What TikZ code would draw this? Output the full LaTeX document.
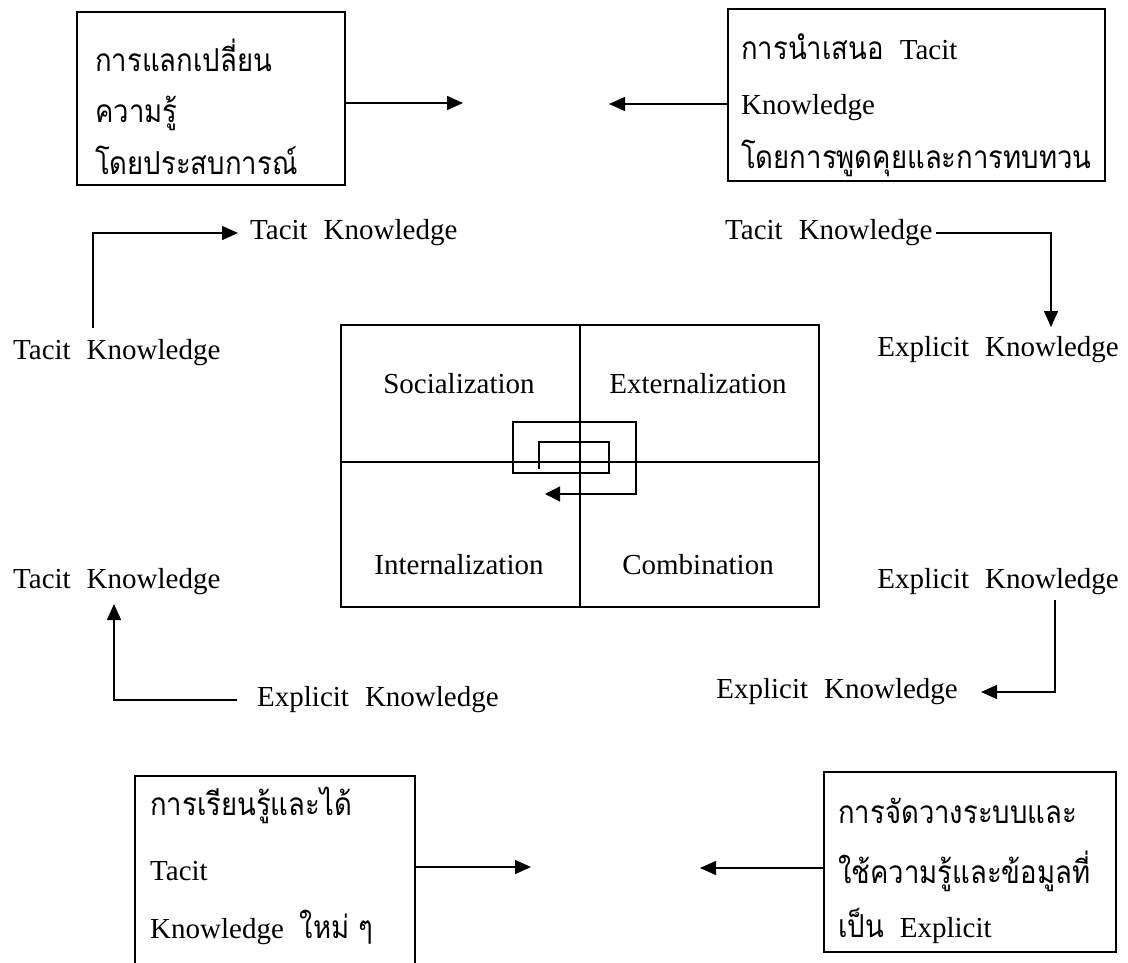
\documentclass[tikz,border=0pt]{standalone}
\usepackage{graphicx}
\usepackage{fontspec}
\setmainfont{Liberation Serif}
\newfontfamily\thaifont[Script=Thai]{Loma}
% Thai runs are set a little taller than Loma's natural proportions
\newcommand\tht[1]{\scalebox{1}[1.15]{\fontsize{27.5}{32}\thaifont #1}}
\newcommand\gap{\hspace{16pt}}
\usetikzlibrary{arrows.meta}
\begin{document}
\begin{tikzpicture}[x=1pt,y=-1pt,
  lbl/.style={inner sep=0pt, font=\fontsize{29}{34}\selectfont},
  frame/.style={draw, line width=1.8pt, inner sep=0pt, anchor=north west},
  link/.style={line width=1.5pt},
  arr/.style={link, -{Triangle[length=16pt,width=14pt]}},
]
\useasboundingbox (0,0) rectangle (1128,963);

% ---- four process boxes ----
\node[frame, minimum width=268pt, minimum height=173pt] (b1) at (76,11) {};
\node[lbl, anchor=base west] (b1a) at (95,72)  {\tht{การแลกเปลี่ยน}};
\node[lbl, anchor=base west] (b1b) at (95,123) {\tht{ความรู้}};
\node[lbl, anchor=base west] (b1c) at (95,175) {\tht{โดยประสบการณ์}};

\node[frame, minimum width=377pt, minimum height=172pt] (b2) at (727,8) {};
\node[lbl, anchor=base west] (b2a) at (741,60)  {\tht{การนำเสนอ}\gap Tacit};
\node[lbl, anchor=base west] (b2b) at (741,115) {Knowledge};
\node[lbl, anchor=base west] (b2c) at (741,168) {\tht{โดยการพูดคุยและการทบทวน}};

\node[frame, minimum width=280pt, minimum height=215pt] (b3) at (134,775) {};
\node[lbl, anchor=base west] (b3a) at (150,815) {\tht{การเรียนรู้และได้}};
\node[lbl, anchor=base west] (b3b) at (150,880) {Tacit};
\node[lbl, anchor=base west] (b3c) at (150,938) {Knowledge\gap\tht{ใหม่ ๆ}};

\node[frame, minimum width=292pt, minimum height=180pt] (b4) at (823,771) {};
\node[lbl, anchor=base west] (b4a) at (838,823) {\tht{การจัดวางระบบและ}};
\node[lbl, anchor=base west] (b4b) at (838,883) {\tht{ใช้ความรู้และข้อมูลที่}};
\node[lbl, anchor=base west] (b4c) at (838,937) {\tht{เป็น}\gap Explicit};

% arrows leaving the boxes
\coordinate (t1) at (463,103);
\coordinate (t2) at (609,104);
\coordinate (t3) at (531,867);
\coordinate (t4) at (700,868);
\draw[arr] (b1.east |- t1) -- (t1);
\draw[arr] (b2.west |- t2) -- (t2);
\draw[arr] (b3.east |- t3) -- (t3);
\draw[arr] (b4.west |- t4) -- (t4);

% ---- SECI grid ----
\node[frame, minimum width=478pt, minimum height=282pt] (g) at (340,324) {};
\draw[line width=1.8pt] (g.north) -- (g.south);
\draw[line width=1.8pt] (g.west |- 0,462) -- (g.east |- 0,462);
\node[lbl] (soc) at (459,384) {Socialization};
\node[lbl] (ext) at (698,384) {Externalization};
\node[lbl] (int) at (459,565) {Internalization};
\node[lbl] (com) at (698,565) {Combination};

% spiral through the centre of the grid
\draw[arr, line width=1.3pt, -{Triangle[length=15pt,width=15pt]}]
  (539,469) -- (539,442) -- (609,442) -- (609,473) -- (513,473)
  -- (513,422) -- (636,422) -- (636,494) -- (545,494);

% ---- knowledge conversions ----
\node[lbl, anchor=west] (tk1) at (250,233) {Tacit\gap Knowledge};
\node[lbl, anchor=west] (tk2) at (13,353)  {Tacit\gap Knowledge};
\node[lbl, anchor=west] (tk3) at (725,233) {Tacit\gap Knowledge};
\node[lbl, anchor=east] (ek1) at (1119,350) {Explicit\gap Knowledge};
\node[lbl, anchor=west] (tk4) at (13,582)  {Tacit\gap Knowledge};
\node[lbl, anchor=west] (ek2) at (257,700) {Explicit\gap Knowledge};
\node[lbl, anchor=east] (ek3) at (1119,582) {Explicit\gap Knowledge};
\node[lbl, anchor=east] (ek4) at (958,692) {Explicit\gap Knowledge};

\coordinate (c1) at (93,328);
\coordinate (c3) at (1051,327);
\coordinate (c4) at (114,604);
\coordinate (c5) at (1055,600);

\draw[arr, shorten >=12pt] (c1) |- (tk1.west);
\draw[arr] ([xshift=3pt]tk3.east) -| (c3);
\draw[arr] ([xshift=-20pt]ek2.west) -| (c4);
\draw[arr, shorten >=23pt] (c5) |- (ek4.east);
\end{tikzpicture}
\end{document}
